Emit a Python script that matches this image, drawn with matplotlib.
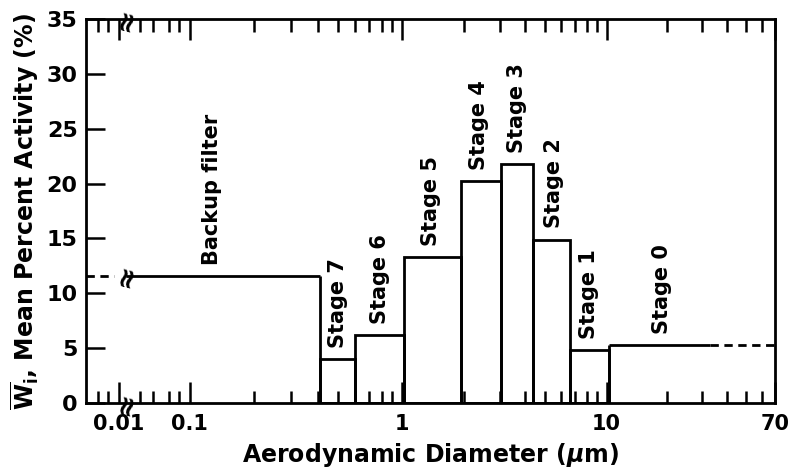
import numpy as np
import matplotlib.pyplot as plt

# impactor stages
stages = ['Backup filter', 'Stage 7', 'Stage 6', 'Stage 5', 'Stage 4',
          'Stage 3', 'Stage 2', 'Stage 1', 'Stage 0']
# bin edges of aerodynamic diameter (um)
edges = [0.0033, 0.41, 0.60, 1.02, 1.94, 3.04, 4.36, 6.6, 10.3, 70]
# mean percent activity per stage (%)
activity = [11.6, 4.0, 6.2, 13.3, 20.2, 21.8, 14.9, 4.8, 5.3]
# where the stage names sit along x
label_x = [0.127, 0.50, 0.79, 1.38, 2.38, 3.64, 5.5, 8.2, 19]

major_x = [0.01, 0.1, 1, 10, 70]
major_lbl = ['0.01', '0.1', '1', '10', '70']
minor_x = [0.005, 0.007, 0.02, 0.03, 0.05, 0.07,
           0.2, 0.3, 0.4, 0.5, 0.6, 0.7, 0.8, 0.9,
           2, 3, 4, 5, 6, 7, 8, 9,
           20, 30, 40, 50, 60]

break_x = 0.0125      # axis break mark
backup_dash_end = 0.0085
stage0_dash_start = 33

# broken log axis: the part below 0.1 is squeezed
knot_log = np.array([-4, -2, -1, 0, 1, np.log10(70), 3])
knot_pos = np.array([117 - 2 * 69, 117, 188, 401, 606, 775, 606 + 2 * 205])


def fwd(x):
    x = np.clip(np.asarray(x, dtype=float), 1e-8, None)
    return np.interp(np.log10(x), knot_log, knot_pos)


def inv(p):
    return 10 ** np.interp(p, knot_pos, knot_log)


plt.rcParams['font.family'] = 'DejaVu Sans'
plt.rcParams['font.weight'] = 'bold'
plt.rcParams['axes.labelweight'] = 'bold'
plt.rcParams['mathtext.default'] = 'bf'

fig = plt.figure(figsize=(7.94, 4.72), dpi=100)
ax = fig.add_axes([0.1083, 0.1462, 0.8678, 0.8135])
ax.set_xscale('function', functions=(fwd, inv))

lw = 2.0
# stages 7 .. 1 as closed boxes
for i in range(1, 8):
    ax.bar(edges[i], activity[i], width=edges[i + 1] - edges[i], align='edge',
           fill=False, edgecolor='black', linewidth=lw)

# backup filter: dashed into the break, solid after it
ax.hlines(activity[0], edges[0], backup_dash_end, colors='black', lw=lw,
          linestyles=(0, (3, 2)))
ax.hlines(activity[0], break_x, edges[1], colors='black', lw=lw)
ax.vlines(edges[1], 0, activity[0], colors='black', lw=lw)

# stage 0: solid, then dashed out to 70 um
ax.vlines(edges[8], 0, activity[8], colors='black', lw=lw)
ax.hlines(activity[8], edges[8], stage0_dash_start, colors='black', lw=lw)
ax.hlines(activity[8], stage0_dash_start, edges[9], colors='black', lw=lw,
          linestyles=(0, (3, 2)))

for name, x, h in zip(stages, label_x, activity):
    ax.annotate(name, (x, h), xytext=(0, 8), textcoords='offset points',
                rotation=90, ha='center', va='bottom', fontsize=15)

# break marks on the axes and on the backup line
for y in [0, 35, activity[0]]:
    ax.text(break_x, y, '\u2248', rotation=75, ha='center', va='center',
            fontsize=20, clip_on=False)

ax.set_xlim(edges[0], edges[-1])
ax.set_ylim(0, 35)
ax.set_xticks(major_x)
ax.set_xticklabels(major_lbl)
ax.set_xticks(minor_x, minor=True)
ax.set_yticks(np.arange(0, 36, 5))

ax.tick_params(axis='x', which='both', direction='in', top=True, bottom=True,
               width=1.8, labelsize=15, pad=8)
ax.tick_params(axis='x', which='major', length=15)
ax.tick_params(axis='x', which='minor', length=9)
ax.tick_params(axis='y', which='major', direction='in', length=14, width=1.8,
               labelsize=16, pad=6)
ax.tick_params(axis='y', which='minor', left=False)

for s in ax.spines.values():
    s.set_linewidth(2)

ax.set_xlabel('Aerodynamic Diameter ($\\mathit{\\mu}$m)', fontsize=17,
              labelpad=5)
ax.set_ylabel('$\\overline{W}_i$, Mean Percent Activity (%)', fontsize=17,
              labelpad=4)

fig.savefig('out.png', dpi=100)
